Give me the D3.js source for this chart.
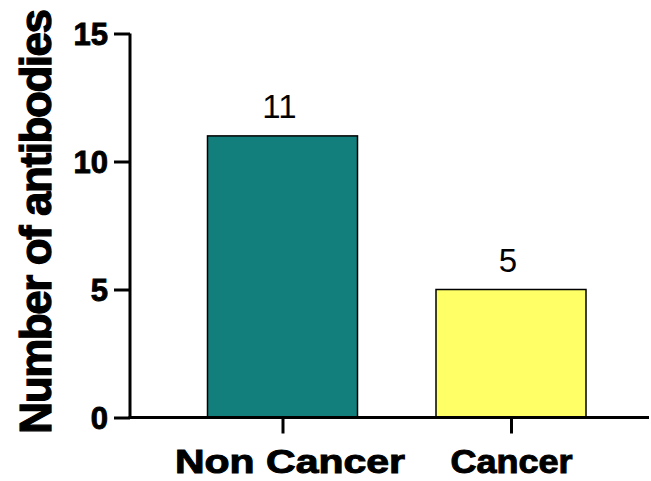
<!DOCTYPE html>
<html>
<head>
<meta charset="utf-8">
<script src="https://cdn.jsdelivr.net/npm/d3@7"></script>
<style>
  html, body { margin: 0; padding: 0; background: #fff; }
  svg { display: block; }
</style>
</head>
<body>
<svg id="chart" width="651" height="481"></svg>
<script>
const categories = ["Non Cancer", "Cancer"];
const values = [11, 5];
const barColors = ["#137F7D", "#FFFF66"];
const yTicks = [0, 5, 10, 15];
const yTitle = "Number of antibodies";

const svg = d3.select("#chart");
const font = "Arial, 'Liberation Sans', Helvetica, sans-serif";

const y = d3.scaleLinear().domain([0, 15]).range([417.5, 33.5]);
const x = d3.scalePoint().domain(categories).range([282.5, 511]);
const barW = 150;
const axisX = 130;
const labelLen = { "Non Cancer": 230, "Cancer": 122 };

// bars
svg.selectAll("rect.bar").data(categories).enter().append("rect")
  .attr("class", "bar")
  .attr("x", d => x(d) - barW / 2)
  .attr("y", (d, i) => y(values[i]))
  .attr("width", barW)
  .attr("height", (d, i) => y(0) - y(values[i]))
  .attr("fill", (d, i) => barColors[i])
  .attr("stroke", "#000")
  .attr("stroke-width", 1.5);

// value labels
svg.selectAll("text.val").data(categories).enter().append("text")
  .attr("class", "val")
  .attr("x", d => x(d) - 3)
  .attr("y", (d, i) => y(values[i]) - 18)
  .attr("text-anchor", "middle")
  .attr("font-family", font)
  .attr("font-size", 33)
  .attr("fill", "#000")
  .text((d, i) => values[i]);

// y axis
const yAxis = d3.axisLeft(y).tickValues(yTicks).tickSize(16).tickPadding(6).tickSizeOuter(0);
const gy = svg.append("g").attr("transform", `translate(${axisX},0)`).call(yAxis);
gy.select(".domain").attr("stroke", "#000").attr("stroke-width", 3)
  .attr("d", `M0,${y(15)}V${y(0) + 1.5}`);
gy.selectAll(".tick line").attr("stroke", "#000").attr("stroke-width", 3);
gy.selectAll(".tick text")
  .attr("font-family", font).attr("font-weight", "bold").attr("font-size", 31)
  .attr("fill", "#000").attr("stroke", "#000").attr("stroke-width", 0.9)
  .attr("dy", "0.35em");

// x axis
const xAxis = d3.axisBottom(x).tickSize(16).tickPadding(16).tickSizeOuter(0);
const gx = svg.append("g").attr("transform", `translate(0,${y(0)})`).call(xAxis);
gx.select(".domain").attr("stroke", "#000").attr("stroke-width", 3)
  .attr("d", `M${axisX - 1.5},0H649`);
gx.selectAll(".tick line").attr("stroke", "#000").attr("stroke-width", 3);
gx.selectAll(".tick text")
  .attr("font-family", font).attr("font-weight", "bold").attr("font-size", 33)
  .attr("fill", "#000").attr("stroke", "#000").attr("stroke-width", 1)
  .attr("dy", "0.71em")
  .attr("textLength", d => labelLen[d]).attr("lengthAdjust", "spacingAndGlyphs")
  .attr("x", d => d === "Non Cancer" ? 7 : 0);

// y title
svg.append("text")
  .attr("transform", "translate(51,222) rotate(-90)")
  .attr("text-anchor", "middle")
  .attr("font-family", font).attr("font-weight", "bold").attr("font-size", 44)
  .attr("letter-spacing", -1.45)
  .attr("fill", "#000").attr("stroke", "#000").attr("stroke-width", 1.2)
  .text(yTitle);
</script>
</body>
</html>
